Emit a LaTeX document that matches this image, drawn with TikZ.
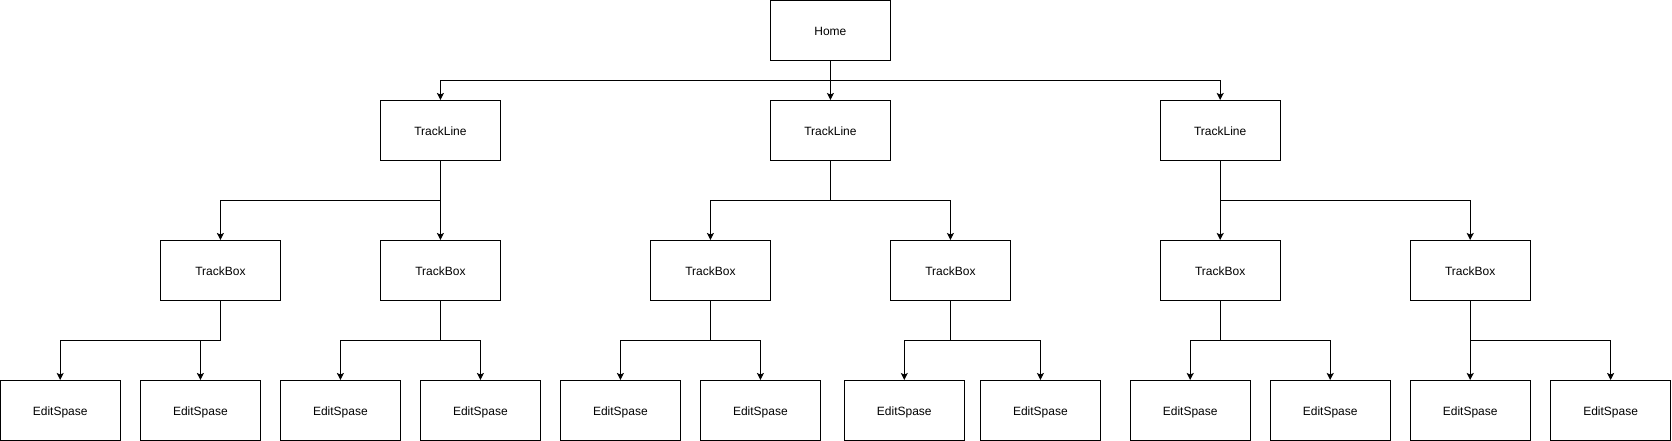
\documentclass[tikz,border=0pt]{standalone}
\usepackage{fontspec}
\setmainfont{Liberation Sans}
\usetikzlibrary{arrows.meta}
\begin{document}
\begin{tikzpicture}[x=1pt,y=-1pt,
  box/.style={draw=black,line width=1pt,minimum width=120pt,minimum height=60pt,inner sep=0pt,text height=9.2pt,text depth=0pt,font=\fontsize{12pt}{14pt}\selectfont},
  arr/.style={draw=black,line width=1pt,-{Stealth[length=7pt,width=7pt,inset=1.5pt]}}]
\useasboundingbox (0,0) rectangle (1672,441);
% level 0
\node[box] (home) at (830.4,30.5) {Home};
% level 1
\node[box] (tl1) at (440.4,130.5) {TrackLine};
\node[box] (tl2) at (830.4,130.5) {TrackLine};
\node[box] (tl3) at (1220.2,130.5) {TrackLine};
% level 2
\node[box] (tb1) at (220.4,270.5) {TrackBox};
\node[box] (tb2) at (440.4,270.5) {TrackBox};
\node[box] (tb3) at (710.4,270.5) {TrackBox};
\node[box] (tb4) at (950.4,270.5) {TrackBox};
\node[box] (tb5) at (1220.2,270.5) {TrackBox};
\node[box] (tb6) at (1470.2,270.5) {TrackBox};
% level 3
\node[box] (e1) at (60.2,410.5) {EditSpase};
\node[box] (e2) at (200.4,410.5) {EditSpase};
\node[box] (e3) at (340.4,410.5) {EditSpase};
\node[box] (e4) at (480.4,410.5) {EditSpase};
\node[box] (e5) at (620.4,410.5) {EditSpase};
\node[box] (e6) at (760.4,410.5) {EditSpase};
\node[box] (e7) at (904.3,410.5) {EditSpase};
\node[box] (e8) at (1040.4,410.5) {EditSpase};
\node[box] (e9) at (1190.2,410.5) {EditSpase};
\node[box] (e10) at (1330.2,410.5) {EditSpase};
\node[box] (e11) at (1470.2,410.5) {EditSpase};
\node[box] (e12) at (1610.6,410.5) {EditSpase};
% bus levels
\coordinate (b0) at (0,80.5);
\coordinate (b1) at (0,200.5);
\coordinate (b2) at (0,340.5);
% connectors
\foreach \c in {tl1,tl2,tl3}
  \draw[arr] (home.south) -- (home.south |- b0) -| (\c.north);
\foreach \c in {tb1,tb2}
  \draw[arr] (tl1.south) -- (tl1.south |- b1) -| (\c.north);
\foreach \c in {tb3,tb4}
  \draw[arr] (tl2.south) -- (tl2.south |- b1) -| (\c.north);
\foreach \c in {tb5,tb6}
  \draw[arr] (tl3.south) -- (tl3.south |- b1) -| (\c.north);
\foreach \c in {e1,e2}
  \draw[arr] (tb1.south) -- (tb1.south |- b2) -| (\c.north);
\foreach \c in {e3,e4}
  \draw[arr] (tb2.south) -- (tb2.south |- b2) -| (\c.north);
\foreach \c in {e5,e6}
  \draw[arr] (tb3.south) -- (tb3.south |- b2) -| (\c.north);
\foreach \c in {e7,e8}
  \draw[arr] (tb4.south) -- (tb4.south |- b2) -| (\c.north);
\foreach \c in {e9,e10}
  \draw[arr] (tb5.south) -- (tb5.south |- b2) -| (\c.north);
\foreach \c in {e11,e12}
  \draw[arr] (tb6.south) -- (tb6.south |- b2) -| (\c.north);
\end{tikzpicture}
\end{document}
